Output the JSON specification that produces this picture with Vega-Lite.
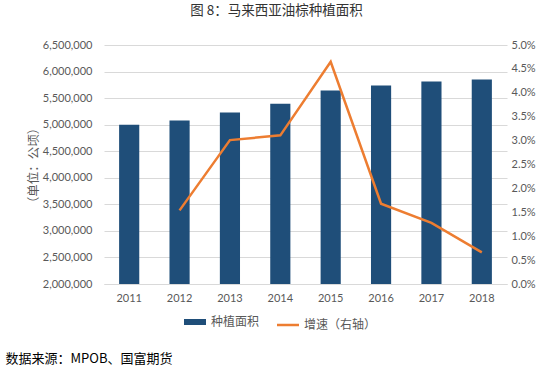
{
  "$schema": "https://vega.github.io/schema/vega-lite/v6.json",
  "width": 403,
  "height": 239,
  "autosize": {"type": "none"},
  "padding": {"left": 104, "top": 45, "right": 47, "bottom": 92},
  "background": "white",
  "title": {
    "text": "图 8：马来西亚油棕种植面积",
    "font": "Noto Sans CJK SC",
    "fontSize": 13.5,
    "fontWeight": "normal",
    "color": "#333333",
    "anchor": "middle",
    "frame": "group",
    "dx": -29,
    "offset": 22
  },
  "data": {
    "values": [
      {"year": "2011", "area": 5000109, "growth": null},
      {"year": "2012", "area": 5076929, "growth": 0.0154},
      {"year": "2013", "area": 5229739, "growth": 0.0301},
      {"year": "2014", "area": 5392235, "growth": 0.0311},
      {"year": "2015", "area": 5642943, "growth": 0.0465},
      {"year": "2016", "area": 5737985, "growth": 0.0168},
      {"year": "2017", "area": 5811145, "growth": 0.0128},
      {"year": "2018", "area": 5849330, "growth": 0.0066}
    ]
  },
  "encoding": {
    "x": {
      "field": "year",
      "type": "ordinal",
      "scale": {"paddingInner": 0.6, "paddingOuter": 0.3},
      "axis": {
        "labelAngle": 0,
        "ticks": false,
        "domain": true,
        "domainColor": "#D9D9D9",
        "labelColor": "#595959",
        "labelFont": "Lato",
        "labelFontSize": 11,
        "labelPadding": 8,
        "title": "数据来源：MPOB、国富期货",
        "titleX": -99,
        "titleY": 74,
        "titleAlign": "left",
        "titleBaseline": "middle",
        "titleFont": "Noto Sans CJK SC",
        "titleFontSize": 13,
        "titleFontWeight": "normal",
        "titleColor": "#000000"
      }
    }
  },
  "layer": [
    {
      "mark": {"type": "bar"},
      "encoding": {
        "y": {
          "field": "area",
          "type": "quantitative",
          "scale": {"domain": [2000000, 6500000], "nice": false, "zero": false},
          "axis": {
            "values": [2000000, 2500000, 3000000, 3500000, 4000000, 4500000, 5000000, 5500000, 6000000, 6500000],
            "format": ",.0f",
            "grid": true,
            "gridColor": "#D9D9D9",
            "ticks": false,
            "domain": false,
            "labelPadding": 12,
            "labelColor": "#595959",
            "labelFont": "Lato",
            "labelFontSize": 11,
            "title": "（单位：公顷）",
            "titleX": -71,
            "titleY": 120,
            "titleAngle": -90,
            "titleAlign": "center",
            "titleBaseline": "middle",
            "titleFont": "Noto Sans CJK SC",
            "titleFontSize": 12.5,
            "titleFontWeight": "normal",
            "titleColor": "#595959"
          }
        },
        "y2": {"datum": 2000000},
        "color": {
          "datum": "种植面积",
          "type": "nominal",
          "scale": {"domain": ["种植面积", "增速（右轴）"], "range": ["#1F4E79", "#ED7D31"]},
          "legend": {
            "title": null,
            "orient": "none",
            "legendX": 85,
            "legendY": 271,
            "direction": "horizontal",
            "symbolType": "stroke",
            "symbolSize": 484,
            "labelFont": "Noto Sans CJK SC",
            "labelFontSize": 12,
            "labelColor": "#595959",
            "labelOffset": 10,
            "columnPadding": 12,
            "encode": {
              "symbols": {
                "update": {
                  "strokeWidth": {"signal": "datum.value === '种植面积' ? 6 : 2.5"},
                  "stroke": {"signal": "datum.value === '种植面积' ? '#1F4E79' : '#ED7D31'"}
                }
              }
            }
          }
        }
      }
    },
    {
      "mark": {"type": "line", "strokeWidth": 2.5},
      "encoding": {
        "y": {
          "field": "growth",
          "type": "quantitative",
          "scale": {"domain": [0, 0.05], "nice": false},
          "axis": {
            "orient": "right",
            "values": [0, 0.005, 0.01, 0.015, 0.02, 0.025, 0.03, 0.035, 0.04, 0.045, 0.05],
            "format": ".1%",
            "grid": false,
            "ticks": false,
            "domain": false,
            "labelPadding": 4,
            "labelColor": "#595959",
            "labelFont": "Lato",
            "labelFontSize": 11,
            "title": null
          }
        },
        "color": {"datum": "增速（右轴）", "type": "nominal"}
      }
    }
  ],
  "resolve": {"scale": {"y": "independent"}},
  "config": {"view": {"stroke": null}}
}
